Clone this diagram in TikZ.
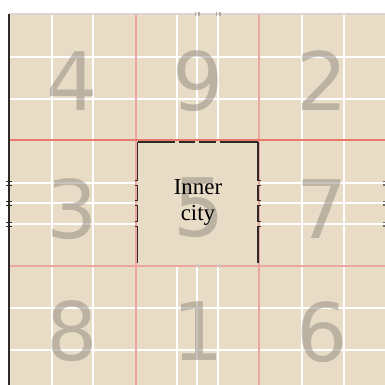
\documentclass[tikz,border=0pt]{standalone}
\usepackage{fontspec}
\newfontfamily\digitfont{DejaVu Sans}
\newfontfamily\labelfont{Liberation Serif}
\definecolor{bg}{HTML}{E9DCC7}
\definecolor{redA}{HTML}{E8796B}
\definecolor{redB}{HTML}{EBA6A0}
\definecolor{edge}{HTML}{2E2A28}
\definecolor{topline}{HTML}{DDD3D3}
\definecolor{digitgray}{HTML}{8F897F}
\tikzset{
  road/.style={white, line width=2.6bp},
  redthick/.style={redA, line width=2bp},
  redthin/.style={redB, line width=1.3bp},
  boxline/.style={edge, line width=1.6bp},
  tick/.style={edge, line width=0.9bp},
  digit/.style={font=\digitfont\fontsize{81}{81}\selectfont, text=digitgray, text opacity=0.5, inner sep=0pt},
  label/.style={font=\labelfont\fontsize{23}{26}\selectfont, align=center, text=black, inner sep=0pt}
}
\begin{document}
\begin{tikzpicture}[x=1bp,y=-1bp]
\useasboundingbox (0,0) rectangle (385,385);
\fill[white] (0,0) rectangle (385,385);
\fill[bg] (9,14) rectangle (385,385);
% white roads
\foreach \x in {52,93,302,344} \draw[road] (\x,14) -- (\x,385);
\foreach \y in {57,99,308,350} \draw[road] (9,\y) -- (385,\y);
\foreach \x in {177,197,218} {\draw[road] (\x,14) -- (\x,140); \draw[road] (\x,266) -- (\x,385);}
\foreach \y in {183,203,224} {\draw[road] (9,\y) -- (136,\y); \draw[road] (259,\y) -- (385,\y);}
% red lines
\draw[redthin] (136,14) -- (136,385);
\draw[redthin] (259,14) -- (259,385);
\draw[redthin] (9,266) -- (385,266);
\draw[redthick] (9,140) -- (385,140);
% edges
\draw[topline, line width=1.2bp] (9,14) -- (385,14);
\draw[edge, line width=1.6bp] (9,14) -- (9,385);
% small marks at road ends
\foreach \y in {183,203,224} {
  \draw[tick] (6,\y-2) -- (12,\y-2);
  \draw[tick] (6,\y+2) -- (12,\y+2);
  \fill[edge!70] (382.5,\y-2.5) rectangle (385,\y-1);
  \fill[edge!70] (382.5,\y+1) rectangle (385,\y+2.5);
}
\foreach \x in {197,218} {
  \fill[edge!40] (\x-2.5,12) rectangle (\x-1,16);
  \fill[edge!40] (\x+1,12) rectangle (\x+2.5,16);
  \fill[edge!25] (\x-2.5,264) rectangle (\x-1,268);
  \fill[edge!25] (\x+1,264) rectangle (\x+2.5,268);
}
% digits
\node[digit] (d4) at (72,81) {4};
\node[digit] (d9) at (198,81) {9};
\node[digit] (d2) at (322,81) {2};
\node[digit] (d3) at (72,209) {3};
\node[digit] (d5) at (199,208) {5};
\node[digit] (d7) at (322,209) {7};
\node[digit] (d8) at (72,331) {8};
\node[digit] (d1) at (198,331) {1};
\node[digit] (d6) at (322,332) {6};
% inner city box
\draw[boxline] (137.5,142) -- (137.5,180.5) -- (135,180.5);
\draw[boxline] (135,185.5) -- (137.5,185.5) -- (137.5,200.5) -- (135,200.5);
\draw[boxline] (135,205.5) -- (137.5,205.5) -- (137.5,221.5) -- (135,221.5);
\draw[boxline] (135,226.5) -- (137.5,226.5) -- (137.5,263);
\draw[boxline] (258,142) -- (258,180.5) -- (260.5,180.5);
\draw[boxline] (260.5,185.5) -- (258,185.5) -- (258,200.5) -- (260.5,200.5);
\draw[boxline] (260.5,205.5) -- (258,205.5) -- (258,221.5) -- (260.5,221.5);
\draw[boxline] (260.5,226.5) -- (258,226.5) -- (258,263);
\draw[boxline] (137.5,142) -- (174.5,142) -- (174.5,140.5);
\draw[boxline] (179.5,140.5) -- (179.5,142) -- (194.5,142) -- (194.5,140.5);
\draw[boxline] (199.5,140.5) -- (199.5,142) -- (215.5,142) -- (215.5,140.5);
\draw[boxline] (220.5,140.5) -- (220.5,142) -- (258,142);
\node[label] (inner) at (198,202.5) {Inner\\city};
\end{tikzpicture}
\end{document}
